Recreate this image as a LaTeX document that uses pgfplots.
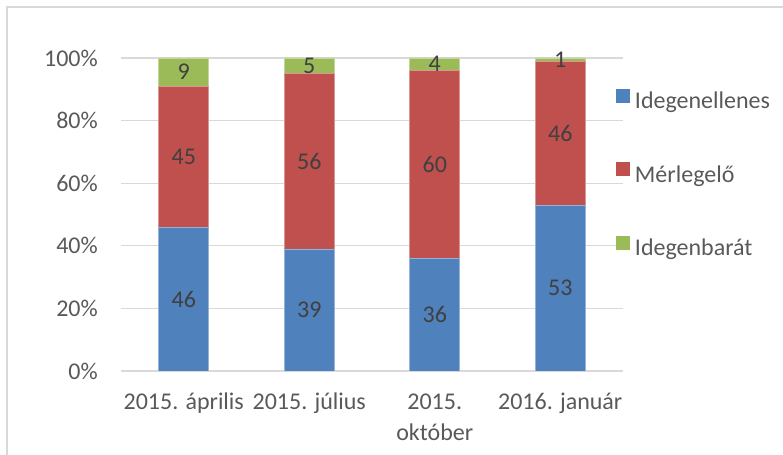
\documentclass[border=0pt]{standalone}
\usepackage{fontspec}
\setmainfont{Carlito}
\usepackage{pgfplots}
\pgfplotsset{compat=1.18}
\usepackage{pgfplotstable}
\definecolor{cblue}{HTML}{4F81BD}
\definecolor{cred}{HTML}{C0504D}
\definecolor{cgreen}{HTML}{9BBB59}
\definecolor{cgrid}{HTML}{D9D9D9}
\definecolor{ctext}{HTML}{595959}
\definecolor{clabel}{HTML}{404040}
\pgfplotstableread{
x y
0 46
1 39
2 36
3 53
}\ellen
\pgfplotstableread{
x y
0 45
1 56
2 60
3 46
}\merleg
\pgfplotstableread{
x y
0 9
1 5
2 4
3 1
}\barat
\newcommand{\bigf}{\fontsize{24bp}{31bp}\selectfont}
\begin{document}
\begin{tikzpicture}
\useasboundingbox (0,0) rectangle (783bp,455bp);
\draw[cgrid, line width=1.2bp] (7bp,0) -- (7bp,448bp) -- (784bp,448bp);
\begin{axis}[
  at={(121bp,84bp)}, anchor=south west,
  scale only axis, width=502bp, height=313bp,
  ybar stacked, bar width=50bp,
  xmin=-0.5, xmax=3.5, ymin=0, ymax=100,
  xtick={0,1,2,3},
  xticklabels={{\rule{0pt}{17bp}2015. április},{\rule{0pt}{17bp}2015. július},{\rule{0pt}{17bp}2015.\\október},{\rule{0pt}{17bp}2016. január}},
  ytick={0,20,40,60,80,100},
  yticklabel={\pgfmathprintnumber{\tick}\%},
  /pgf/number format/assume math mode=true,
  ymajorgrids, grid style={cgrid, line width=1.2bp},
  axis line style={draw=none},
  major tick length=0pt,
  tick style={draw=none},
  yticklabel style={anchor=east, inner sep=0pt, xshift=-23bp, font=\bigf, text=ctext},
  xticklabel style={anchor=north, align=center, inner sep=0pt, yshift=-21bp, font=\bigf, text=ctext},
  nodes near coords,
  every node near coord/.append style={
    /utils/exec={\pgfkeys{/pgf/fpu=true,/pgf/fpu/output format=fixed}%
      \pgfmathsetmacro\halfh{\pgfplotspointmeta*0.0}%
      \pgfkeys{/pgf/fpu=false}},
    anchor=center, yshift=-\halfh bp, font=\bigf, text=clabel, inner sep=0pt},
  legend style={draw=none, fill=none, at={(0.986,0.902)}, anchor=north west, inner sep=0pt, outer sep=0pt,
     row sep=48.5bp, column sep=5bp,
     nodes={inner sep=0pt, text height=17bp, text depth=5bp, font=\bigf, text=ctext}},
  legend cell align=left,
  legend image code/.code={\fill[#1,draw=none] (0bp,0bp) rectangle (14bp,14bp);},
]
\addplot[fill=cblue, draw=cblue!60!white, line width=0.8bp] table[x=x,y=y] {\ellen};
\addplot[fill=cred, draw=cred!60!white, line width=0.8bp] table[x=x,y=y] {\merleg};
\addplot[fill=cgreen, draw=cgreen!60!white, line width=0.8bp] table[x=x,y=y] {\barat};
\legend{Idegenellenes, Mérlegelő, Idegenbarát}
\end{axis}
\end{tikzpicture}
\end{document}
